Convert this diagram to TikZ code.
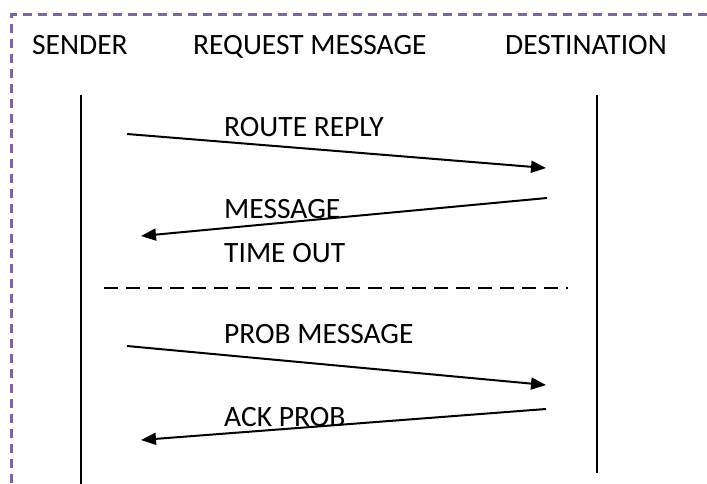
\documentclass[tikz,border=0pt]{standalone}
\usepackage{fontspec}
\setmainfont{Carlito}
\usetikzlibrary{arrows.meta}
\definecolor{boxpurple}{HTML}{8064A2}

\begin{document}
\begin{tikzpicture}[x=1pt,y=-1pt,
    lbl/.style={anchor=base west,inner sep=0pt,font=\fontsize{29.5}{35}\selectfont},
    msg/.style={line width=2pt,-{Triangle[length=15pt,width=12pt]}}]
        \useasboundingbox (0,0) rectangle (707,484);
        \draw[boxpurple,line width=3pt,dash pattern=on 9pt off 6pt] (707,15) -- (11,15) -- (11,484);
        % headers
        \node[lbl] (S) at (32,55) {SENDER};
        \node[lbl] (R) at (193,55) {REQUEST MESSAGE};
        \node[lbl] (Dn) at (505,55) {DESTINATION};
        % lifelines
        \coordinate (S1) at (81,95);
        \coordinate (S2) at (81,484);
        \coordinate (D1) at (597,95);
        \coordinate (D2) at (597,473);
        \draw[line width=1.5pt] (S1) -- (S2);
        \draw[line width=1.5pt] (D1) -- (D2);
        % messages
        \coordinate (A) at (127,134);
        \coordinate (B) at (546,168);
        \coordinate (C) at (547,198);
        \coordinate (E) at (141,236);
        \coordinate (F) at (127,346);
        \coordinate (G) at (546,385);
        \coordinate (H) at (546,409);
        \coordinate (K) at (141,440);
        \draw[msg] (A) -- (B);
        \draw[msg] (C) -- (E);
        \draw[msg] (F) -- (G);
        \draw[msg] (H) -- (K);
        \node[lbl] (rr) at (224,137) {ROUTE REPLY};
        \node[lbl] (mg) at (224,218) {MESSAGE};
        \node[lbl] (to) at (224,262) {TIME OUT};
        \node[lbl] (pm) at (224,343) {PROB MESSAGE};
        \node[lbl] (ap) at (224,426) {ACK PROB};
        % separator
        \coordinate (L) at (104,288);
        \coordinate (M) at (568,288);
        \draw[line width=1.3pt,dash pattern=on 14pt off 8pt] (L) -- (M);
    \end{tikzpicture}
\end{document}
